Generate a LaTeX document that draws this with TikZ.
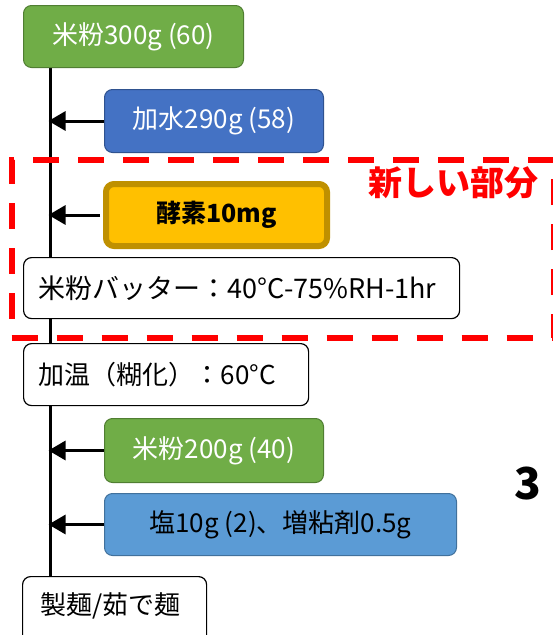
\documentclass[tikz,border=0pt]{standalone}
\usepackage{fontspec}
\setmainfont{Noto Sans CJK JP}
\usetikzlibrary{arrows.meta,backgrounds}
\definecolor{gfill}{HTML}{70AD47}
\definecolor{gline}{HTML}{507E32}
\definecolor{bfill}{HTML}{4472C4}
\definecolor{bline}{HTML}{2F528F}
\definecolor{lbfill}{HTML}{5B9BD5}
\definecolor{lbline}{HTML}{41719C}
\definecolor{ofill}{HTML}{FFC000}
\definecolor{oline}{HTML}{BF9000}
\definecolor{newred}{HTML}{FF0000}
\tikzset{
  box/.style={rounded corners=8pt, anchor=north west, inner sep=0pt, font=\fontsize{26}{30}\selectfont},
  greenbox/.style={box, draw=gline, line width=1pt, fill=gfill, text=white},
  bluebox/.style={box, draw=bline, line width=1pt, fill=bfill, text=white},
  lbluebox/.style={box, draw=lbline, line width=1pt, fill=lbfill, text=black},
  goldbox/.style={box, draw=oline, line width=6pt, fill=ofill, text=black, font=\fontsize{25}{30}\selectfont\bfseries},
  whitebox/.style={box, draw=black, line width=1.2pt, fill=white, text=black, align=left, inner xsep=15pt},
  trunk/.style={line width=3pt, black},
  feed/.style={line width=3pt, black, -{Triangle[length=17pt,width=19pt]}, shorten >=-1.5pt},
}
\begin{document}
\begin{tikzpicture}[x=1pt,y=-1pt]
\useasboundingbox (0,0) rectangle (553,635);
\node[greenbox, minimum width=220pt, minimum height=62pt] (n1) at (23,5) {米粉300g (60)};
\node[bluebox, minimum width=219pt, minimum height=63pt] (n2) at (104,89) {加水290g (58)};
\node[goldbox, minimum width=221pt, minimum height=62pt] (n3) at (103,181) {酵素10mg};
\node[whitebox, text width=406pt, minimum height=61pt, font=\fontsize{27}{30}\selectfont] (n4) at (23,257) {米粉バッター：40°C-75\%RH-1hr};
\node[whitebox, text width=255pt, minimum height=62pt] (n5) at (23,343) {加温（糊化）：60°C};
\node[greenbox, minimum width=219pt, minimum height=64pt] (n6) at (104,418) {米粉200g (40)};
\node[lbluebox, minimum width=352pt, minimum height=62pt] (n7) at (104,493) {塩10g (2)、増粘剤0.5g};
\node[whitebox, minimum width=184pt, minimum height=70pt] (n8) at (22,576) {};
\node[font=\fontsize{26}{30}\selectfont, anchor=west] (n8t) at (37,606) {製麺/茹で麺};
\coordinate (t) at (50,0);
\begin{pgfonlayer}{background}
\draw[trunk] (n1.south -| t) -- (n8.north -| t);
\end{pgfonlayer}
\draw[feed] (n2.west) -- (n2.west -| t);
\draw[feed] (n3.west) ++(-3,0) coordinate (n3w) -- (n3w -| t);
\draw[feed] (n6.west) -- (n6.west -| t);
\draw[feed] (n7.west) -- (n7.west -| t);
\node[draw=newred, line width=6pt, dash pattern=on 26pt off 19pt, minimum width=542pt, minimum height=178pt, anchor=north west, inner sep=0pt] (dz) at (8.5,157) {};
\node[text=newred, font=\fontsize{34}{40}\selectfont\bfseries, anchor=center] (lbl) at (453,183) {新しい部分};
\node[font=\fontsize{44}{50}\selectfont\bfseries, anchor=center] (num) at (528,484) {3};
\end{tikzpicture}
\end{document}
